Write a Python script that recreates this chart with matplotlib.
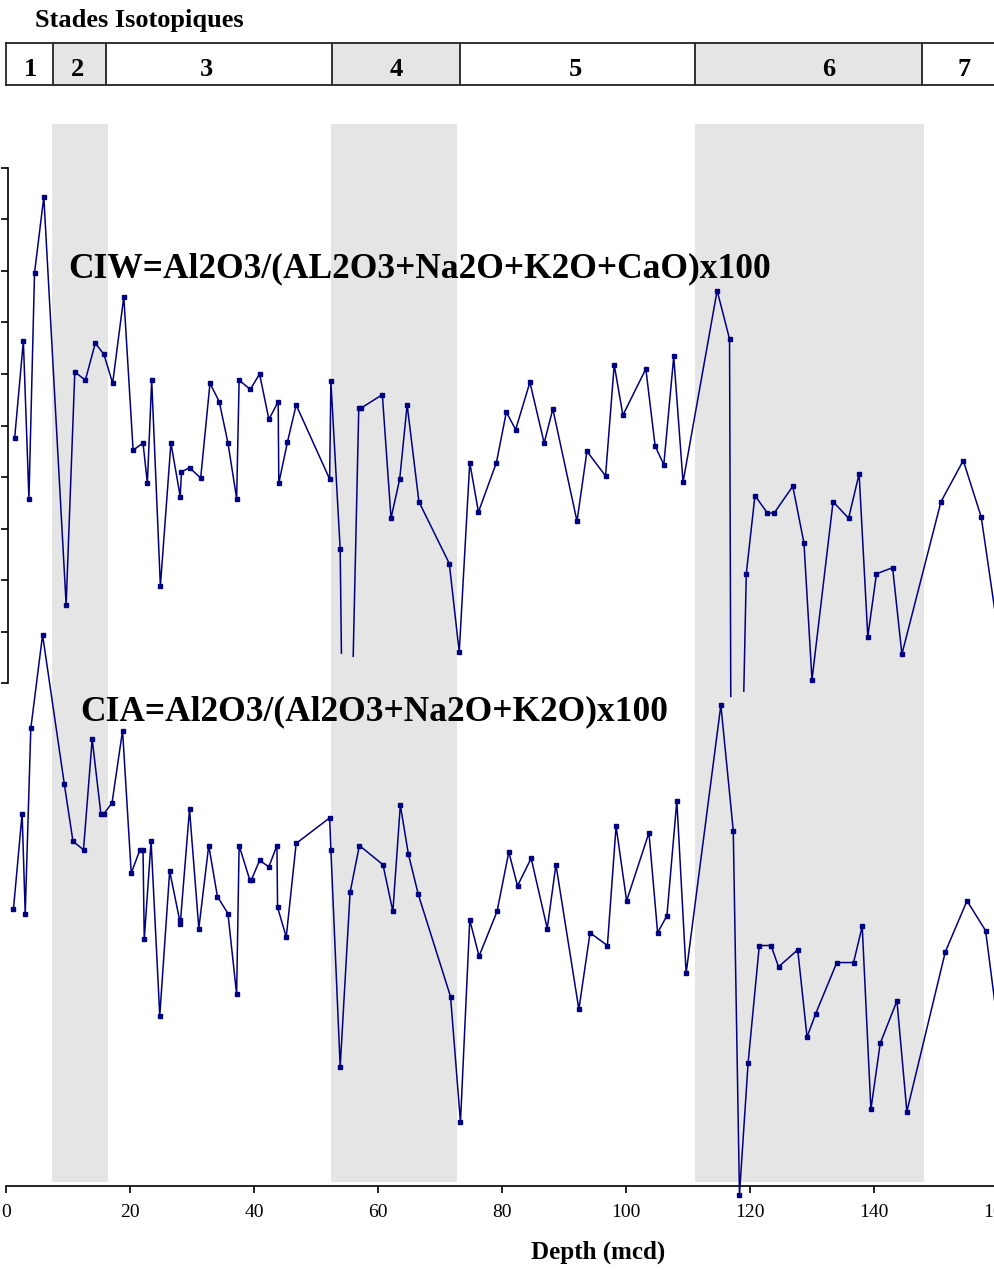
import numpy as np
import matplotlib
matplotlib.use("Agg")
import matplotlib.pyplot as plt

# ---- data -----------------------------------------------------------------
# isotopic stages: boundaries (depth, mcd), shaded flags, label positions
STAGE_NAMES = ["1", "2", "3", "4", "5", "6", "7"]
STAGE_BOUNDS = [0.0, 7.5, 16.2, 52.5, 73.2, 111.2, 147.7, 162.0]
STAGE_SHADED = [False, True, False, True, False, True, False]
STAGE_LABEL_X = [4.0, 11.6, 32.3, 62.9, 91.8, 132.7, 154.5]

# gray bands behind the curves (glacial stages)
BAND_START = [7.4, 52.4, 111.1]
BAND_END = [16.5, 72.8, 148.0]

# CIW = Al2O3/(Al2O3+Na2O+K2O+CaO)x100
ciw_depth = [1.4, 2.8, 3.7, 4.6, 6.1, 9.7, 11.1, 12.8, 14.4, 15.8, 17.2, 19.0,
             20.5, 22.1, 22.8, 23.5, 24.9, 26.6, 28.1, 28.3, 29.6, 31.4, 32.9,
             34.4, 35.8, 37.2, 37.6, 39.4, 40.9, 42.4, 43.9, 44.0, 45.4, 46.8,
             52.2, 52.4, 53.9, 54.1, 56.0, 56.9, 57.3, 60.7, 62.1, 63.5, 64.7,
             66.6, 71.5, 73.1, 74.8, 76.2, 79.1, 80.7, 82.2, 84.5, 86.8, 88.2,
             92.1, 93.7, 96.7, 98.1, 99.5, 103.2, 104.7, 106.1, 107.7, 109.2,
             114.7, 116.7, 116.9, 119.0, 119.4, 120.8, 122.8, 123.9, 126.9,
             128.7, 130.0, 133.4, 135.9, 137.6, 139.0, 140.4, 143.0, 144.5,
             150.8, 154.4, 157.3, 161.0]
ciw_value = [73.8, 83.2, 67.9, 89.8, 97.2, 57.6, 80.2, 79.4, 83.0, 81.9, 79.1, 87.5,
             72.6, 73.3, 69.4, 79.4, 59.4, 73.3, 68.1, 70.5, 70.9, 69.9, 79.1,
             77.3, 73.3, 67.9, 79.4, 78.5, 80.0, 75.6, 77.3, 69.4, 73.4, 77.0,
             69.8, 79.3, 63.0, 52.9, 52.6, 76.7, 76.7, 78.0, 66.0, 69.8, 77.0,
             67.6, 61.6, 53.0, 71.4, 66.6, 71.4, 76.3, 74.6, 79.2, 73.3, 76.6,
             65.7, 72.5, 70.1, 80.9, 76.0, 80.5, 73.0, 71.2, 81.7, 69.5,
             88.1, 83.4, 48.7, 49.2, 60.6, 68.2, 66.5, 66.5, 69.1,
             63.6, 50.3, 67.6, 66.0, 70.3, 54.5, 60.6, 61.2, 52.8,
             67.6, 71.6, 66.1, 50.8]
# off-scale values: line is cut there (no marker, gap between pairs)
ciw_offscale = [54.1, 56.0, 116.9, 119.0]

# CIA = Al2O3/(Al2O3+Na2O+K2O)x100
cia_depth = [1.2, 2.6, 3.1, 4.0, 5.9, 9.4, 10.8, 12.5, 13.9, 15.3, 15.8, 17.1,
             18.8, 20.2, 21.6, 22.1, 22.3, 23.4, 24.8, 26.4, 28.0, 28.1, 29.6,
             31.1, 32.7, 34.1, 35.8, 37.2, 37.6, 39.3, 39.6, 40.9, 42.4, 43.7,
             43.8, 45.2, 46.8, 52.2, 52.4, 53.9, 55.5, 57.0, 60.8, 62.4, 63.6,
             64.9, 66.5, 71.7, 73.3, 74.8, 76.3, 79.2, 81.1, 82.5, 84.7, 87.3,
             88.7, 92.4, 94.2, 97.0, 98.4, 100.1, 103.7, 105.1, 106.6, 108.2,
             109.7, 115.3, 117.3, 118.3, 119.7, 121.5, 123.4, 124.6, 127.7,
             129.2, 130.6, 134.0, 136.7, 138.1, 139.5, 141.0, 143.7, 145.3,
             151.5, 155.0, 158.0, 161.0]
cia_value = [63.0, 67.5, 62.8, 71.5, 75.9, 68.9, 66.2, 65.8, 71.0, 67.5, 67.5, 68.0,
             71.4, 64.7, 65.8, 65.8, 61.6, 66.2, 58.0, 64.8, 62.5, 62.3, 67.7,
             62.1, 66.0, 63.6, 62.8, 59.0, 66.0, 64.4, 64.4, 65.3, 65.0, 66.0,
             63.1, 61.7, 66.1, 67.3, 65.8, 55.6, 63.8, 66.0, 65.1, 62.9, 67.9,
             65.6, 63.7, 58.9, 53.0, 62.5, 60.8, 62.9, 65.7, 64.1, 65.4, 62.1,
             65.1, 58.3, 61.9, 61.3, 66.9, 63.4, 66.6, 61.9, 62.7, 68.1,
             60.0, 72.6, 66.7, 49.6, 55.8, 61.3, 61.3, 60.3, 61.1,
             57.0, 58.1, 60.5, 60.5, 62.2, 53.6, 56.7, 58.7, 53.5,
             61.0, 63.4, 62.0, 55.2]

X_TICKS = [0, 20, 40, 60, 80, 100, 120, 140, 160]

# ---- style ----------------------------------------------------------------
SERIF = ["Liberation Serif", "DejaVu Serif"]
NAVY = "#000080"
GRAY = "#e5e5e5"
W, H = 995, 1270


def fx(px):
    return px / W


def fy(py):
    return (H - py) / H


def ciw_line(depth, value, offscale):
    """Insert NaN between consecutive off-scale points so the curve breaks."""
    xs, ys = [], []
    for i, (d, v) in enumerate(zip(depth, value)):
        xs.append(d)
        ys.append(v)
        if d in offscale and i + 1 < len(depth) and depth[i + 1] in offscale:
            xs.append(np.nan)
            ys.append(np.nan)
    return xs, ys


fig = plt.figure(figsize=(W / 100, H / 100), dpi=100)
fig.patch.set_facecolor("white")

left, width = fx(6), fx(992)

# main axes: shading, CIA curve, depth axis
ax = fig.add_axes([left, fy(1186), width, (1186 - 122) / H])
ax.set_xlim(0, 160)
ax.set_ylim(50, 100)
for s0, s1 in zip(BAND_START, BAND_END):
    ax.axvspan(s0, s1, ymin=0.004, ymax=0.998, color=GRAY, lw=0, zorder=0)
ax.plot(cia_depth, cia_value, color=NAVY, lw=1.1, marker="s", ms=3,
        clip_on=False, zorder=3)
for side in ["left", "right", "top"]:
    ax.spines[side].set_visible(False)
ax.spines["bottom"].set_linewidth(1.2)
ax.set_yticks([])
ax.set_xticks(X_TICKS)
ax.set_xticklabels([str(t) for t in X_TICKS], family=SERIF, fontsize=14)
ax.tick_params(axis="x", direction="out", length=5, width=1.2, pad=8)
ax.patch.set_alpha(0)

# CIW axes with its own left scale
ax2 = fig.add_axes([fx(8), fy(683), fx(990), (683 - 168) / H])
ax2.set_xlim(160 * (2 / 992), 160)
ax2.set_ylim(50, 100)
ax2.patch.set_alpha(0)
lx, ly = ciw_line(ciw_depth, ciw_value, ciw_offscale)
ax2.plot(lx, ly, color=NAVY, lw=1.1, clip_on=False, zorder=3)
mk = [i for i, d in enumerate(ciw_depth) if d not in ciw_offscale]
ax2.plot([ciw_depth[i] for i in mk], [ciw_value[i] for i in mk], ls="none",
         color=NAVY, marker="s", ms=3, clip_on=False, zorder=3)
for side in ["right", "top", "bottom"]:
    ax2.spines[side].set_visible(False)
ax2.spines["left"].set_linewidth(1.2)
ax2.set_xticks([])
ax2.set_yticks(np.arange(50, 101, 5))
ax2.set_yticklabels([])
ax2.tick_params(axis="y", direction="out", length=5, width=1.2)

# isotopic stages strip
axh = fig.add_axes([left, fy(85), width, (85 - 43) / H])
axh.set_xlim(0, 160)
axh.set_ylim(0, 1)
for i, name in enumerate(STAGE_NAMES):
    if STAGE_SHADED[i]:
        axh.axvspan(STAGE_BOUNDS[i], STAGE_BOUNDS[i + 1], color=GRAY, lw=0)
    axh.text(STAGE_LABEL_X[i], 0.37, name, ha="center", va="center",
             family=SERIF, fontsize=19, fontweight="bold")
for b in STAGE_BOUNDS[1:-1]:
    axh.axvline(b, color="#222222", lw=1.3)
for side in ["left", "top", "bottom"]:
    axh.spines[side].set_linewidth(1.3)
    axh.spines[side].set_color("#222222")
axh.spines["right"].set_visible(False)
axh.set_xticks([])
axh.set_yticks([])

fig.text(fx(35), fy(21), "Stades Isotopiques", ha="left", va="center",
         family=SERIF, fontsize=19, fontweight="bold")
fig.text(fx(68), fy(277), "CIW=Al2O3/(AL2O3+Na2O+K2O+CaO)x100", ha="left",
         va="baseline", family=SERIF, fontsize=25.5, fontweight="bold")
fig.text(fx(80), fy(720), "CIA=Al2O3/(Al2O3+Na2O+K2O)x100", ha="left",
         va="baseline", family=SERIF, fontsize=25.5, fontweight="bold")
fig.text(fx(598), fy(1252), "Depth (mcd)", ha="center", va="center",
         family=SERIF, fontsize=18, fontweight="bold")

fig.savefig("out.png", dpi=100)
